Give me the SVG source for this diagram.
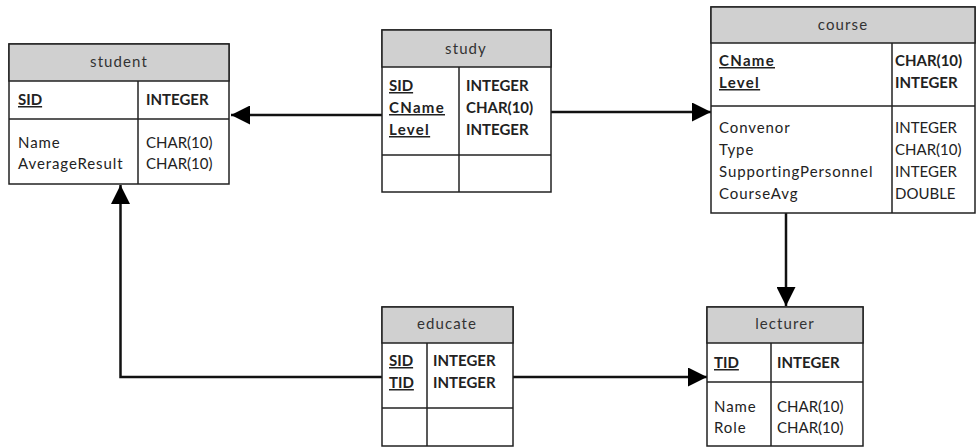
<svg xmlns="http://www.w3.org/2000/svg" width="977" height="447" viewBox="0 0 977 447">
  <style>
    text { font-family: Lato, "Open Sans", "Liberation Sans", sans-serif; font-size: 15px; fill: #222; }
    .hdr { fill: #d0d0d0; stroke: #222; stroke-width: 1.5; }
    .box { fill: #fff; stroke: #222; stroke-width: 1.5; }
    .sep { stroke: #222; stroke-width: 1.5; fill: none; }
    .title { text-anchor: middle; fill: #333; letter-spacing: 1.1px; }
    .key { font-weight: bold; text-decoration: underline; }
    .wide { letter-spacing: 1.3px; }
    .lc { letter-spacing: 0.9px; }
    .b { font-weight: bold; }
    .conn { fill: none; stroke: #111; stroke-width: 2.5; }
  </style>
  <defs>
    <marker id="arrow" viewBox="0 0 19 19" refX="19" refY="9.5" markerWidth="19" markerHeight="19" markerUnits="userSpaceOnUse" orient="auto">
      <path d="M0,0 L19,9.5 L0,19 Z" fill="#000"/>
    </marker>
  </defs>

  <rect width="977" height="447" fill="#fff"/>

  <g id="connectors">
    <path class="conn" d="M382,115 H231" marker-end="url(#arrow)"/>
    <path class="conn" d="M551,112 H711" marker-end="url(#arrow)"/>
    <path class="conn" d="M786,213 V306" marker-end="url(#arrow)"/>
    <path class="conn" d="M382,377 H120.5 V185" marker-end="url(#arrow)"/>
    <path class="conn" d="M513,377 H707" marker-end="url(#arrow)"/>
  </g>

  <g id="student">
    <rect class="box" x="9" y="44" width="220" height="140"/>
    <rect class="hdr" x="9" y="44" width="220" height="37"/>
    <line class="sep" x1="9" y1="119" x2="229" y2="119"/>
    <line class="sep" x1="138" y1="81" x2="138" y2="184"/>
    <text class="title" x="119" y="67">student</text>
    <text class="key" x="18" y="105">SID</text>
    <text class="b" x="146" y="105">INTEGER</text>
    <text class="lc" x="18" y="148">Name</text>
    <text class="lc" x="18" y="169">AverageResult</text>
    <text x="146" y="148">CHAR(10)</text>
    <text x="146" y="169">CHAR(10)</text>
  </g>

  <g id="study">
    <rect class="box" x="382" y="30" width="169" height="162"/>
    <rect class="hdr" x="382" y="30" width="169" height="37"/>
    <line class="sep" x1="382" y1="155" x2="551" y2="155"/>
    <line class="sep" x1="459" y1="67" x2="459" y2="192"/>
    <text class="title" x="466" y="54">study</text>
    <text class="key" x="389" y="91">SID</text>
    <text class="key wide" x="389" y="113">CName</text>
    <text class="key wide" x="389" y="135">Level</text>
    <text class="b" x="466" y="91">INTEGER</text>
    <text class="b" x="466" y="113">CHAR(10)</text>
    <text class="b" x="466" y="135">INTEGER</text>
  </g>

  <g id="course">
    <rect class="box" x="711" y="7" width="264" height="206"/>
    <rect class="hdr" x="711" y="7" width="264" height="36"/>
    <line class="sep" x1="711" y1="106" x2="975" y2="106"/>
    <line class="sep" x1="892" y1="43" x2="892" y2="213"/>
    <text class="title" x="843" y="30">course</text>
    <text class="key wide" x="719" y="66">CName</text>
    <text class="key wide" x="719" y="88">Level</text>
    <text class="b" x="895" y="66">CHAR(10)</text>
    <text class="b" x="895" y="88">INTEGER</text>
    <text class="lc" x="719" y="133">Convenor</text>
    <text class="lc" x="719" y="155">Type</text>
    <text class="lc" x="719" y="177">SupportingPersonnel</text>
    <text class="lc" x="719" y="199">CourseAvg</text>
    <text x="895" y="133">INTEGER</text>
    <text x="895" y="155">CHAR(10)</text>
    <text x="895" y="177">INTEGER</text>
    <text x="895" y="199">DOUBLE</text>
  </g>

  <g id="educate">
    <rect class="box" x="382" y="307" width="131" height="139"/>
    <rect class="hdr" x="382" y="307" width="131" height="36"/>
    <line class="sep" x1="382" y1="408" x2="513" y2="408"/>
    <line class="sep" x1="427" y1="343" x2="427" y2="446"/>
    <text class="title" x="447" y="329">educate</text>
    <text class="key" x="389" y="366">SID</text>
    <text class="key" x="389" y="388">TID</text>
    <text class="b" x="433" y="366">INTEGER</text>
    <text class="b" x="433" y="388">INTEGER</text>
  </g>

  <g id="lecturer">
    <rect class="box" x="707" y="307" width="156" height="139"/>
    <rect class="hdr" x="707" y="307" width="156" height="36"/>
    <line class="sep" x1="707" y1="382" x2="863" y2="382"/>
    <line class="sep" x1="771" y1="343" x2="771" y2="446"/>
    <text class="title" x="785" y="329">lecturer</text>
    <text class="key" x="714" y="368">TID</text>
    <text class="b" x="777" y="368">INTEGER</text>
    <text class="lc" x="714" y="412">Name</text>
    <text class="lc" x="714" y="433">Role</text>
    <text x="777" y="412">CHAR(10)</text>
    <text x="777" y="433">CHAR(10)</text>
  </g>
</svg>
